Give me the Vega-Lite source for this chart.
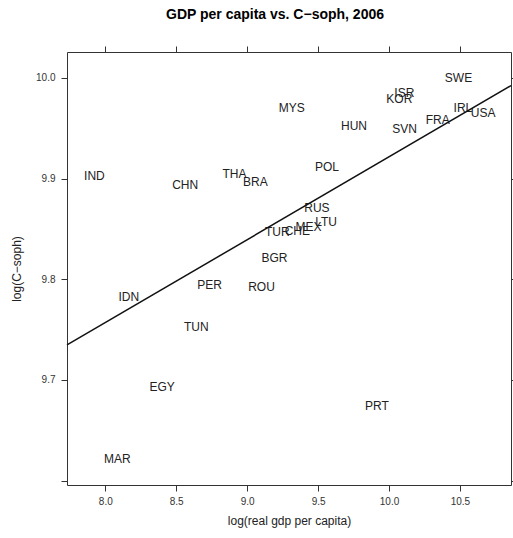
{
  "$schema": "https://vega.github.io/schema/vega-lite/v6.json",
  "width": 444,
  "height": 433,
  "autosize": {"type": "none"},
  "padding": {"left": 67, "top": 52, "right": 2, "bottom": 53},
  "background": "white",
  "title": {
    "text": "GDP per capita vs. C−soph, 2006",
    "fontSize": 14,
    "fontWeight": "bold",
    "font": "Liberation Sans",
    "color": "#000",
    "anchor": "middle",
    "dx": -14,
    "offset": 24
  },
  "config": {
    "font": "Liberation Sans",
    "view": {"stroke": "#333", "strokeWidth": 1},
    "axis": {
      "domain": false,
      "grid": false,
      "tickColor": "#333",
      "tickSize": 6,
      "labelFont": "Liberation Sans",
      "labelFontSize": 10,
      "labelColor": "#333",
      "titleFont": "Liberation Sans",
      "titleFontSize": 12,
      "titleFontWeight": "normal",
      "titleColor": "#222"
    }
  },
  "layer": [
    {
      "data": {
        "values": [
          {"country": "SWE", "gdp": 10.49, "csoph": 10.0},
          {"country": "ISR", "gdp": 10.108, "csoph": 9.985},
          {"country": "KOR", "gdp": 10.073, "csoph": 9.979},
          {"country": "MYS", "gdp": 9.314, "csoph": 9.97},
          {"country": "IRL", "gdp": 10.521, "csoph": 9.970},
          {"country": "USA", "gdp": 10.664, "csoph": 9.965},
          {"country": "FRA", "gdp": 10.343, "csoph": 9.958},
          {"country": "HUN", "gdp": 9.753, "csoph": 9.952},
          {"country": "SVN", "gdp": 10.110, "csoph": 9.949},
          {"country": "POL", "gdp": 9.563, "csoph": 9.9116},
          {"country": "THA", "gdp": 8.911, "csoph": 9.905},
          {"country": "BRA", "gdp": 9.058, "csoph": 9.897},
          {"country": "IND", "gdp": 7.923, "csoph": 9.903},
          {"country": "CHN", "gdp": 8.563, "csoph": 9.894},
          {"country": "RUS", "gdp": 9.492, "csoph": 9.871},
          {"country": "LTU", "gdp": 9.556, "csoph": 9.857},
          {"country": "CHE", "gdp": 9.354, "csoph": 9.848},
          {"country": "MEX", "gdp": 9.432, "csoph": 9.8517},
          {"country": "TUR", "gdp": 9.213, "csoph": 9.8474},
          {"country": "BGR", "gdp": 9.192, "csoph": 9.8216},
          {"country": "ROU", "gdp": 9.101, "csoph": 9.792},
          {"country": "PER", "gdp": 8.735, "csoph": 9.7944},
          {"country": "IDN", "gdp": 8.166, "csoph": 9.782},
          {"country": "TUN", "gdp": 8.641, "csoph": 9.753},
          {"country": "EGY", "gdp": 8.401, "csoph": 9.693},
          {"country": "MAR", "gdp": 8.085, "csoph": 9.622},
          {"country": "PRT", "gdp": 9.915, "csoph": 9.674}
        ]
      },
      "mark": {"type": "text", "fontSize": 12, "color": "#222", "font": "Liberation Sans"},
      "encoding": {
        "x": {
          "field": "gdp",
          "type": "quantitative",
          "scale": {"domain": [7.73, 10.86], "nice": false, "zero": false},
          "axis": {
            "orient": "bottom",
            "title": "log(real gdp per capita)",
            "values": [8, 8.5, 9, 9.5, 10, 10.5],
            "format": ".1f",
            "labelPadding": 5,
            "titlePadding": 9
          }
        },
        "y": {
          "field": "csoph",
          "type": "quantitative",
          "scale": {"domain": [9.5957, 10.0258], "nice": false, "zero": false},
          "axis": {
            "orient": "left",
            "title": "log(C−soph)",
            "values": [9.6, 9.7, 9.8, 9.9, 10.0],
            "labelExpr": "datum.value < 9.65 ? '' : format(datum.value, '.1f')",
            "labelPadding": 6,
            "titlePadding": 12
          }
        },
        "text": {"field": "country"}
      }
    },
    {
      "data": {
        "values": [
          {"gdp": 7.73, "csoph": 9.7348},
          {"gdp": 10.86, "csoph": 9.9924}
        ]
      },
      "mark": {"type": "line", "color": "#111", "strokeWidth": 1.5},
      "encoding": {
        "x": {
          "field": "gdp",
          "type": "quantitative",
          "scale": {"domain": [7.73, 10.86], "nice": false, "zero": false},
          "axis": {"orient": "top", "labels": false, "title": null, "values": [8, 8.5, 9, 9.5, 10, 10.5]}
        },
        "y": {
          "field": "csoph",
          "type": "quantitative",
          "scale": {"domain": [9.5957, 10.0258], "nice": false, "zero": false},
          "axis": {"orient": "right", "labels": false, "title": null, "values": [9.6, 9.7, 9.8, 9.9, 10.0]}
        }
      }
    }
  ],
  "resolve": {"axis": {"x": "independent", "y": "independent"}}
}
